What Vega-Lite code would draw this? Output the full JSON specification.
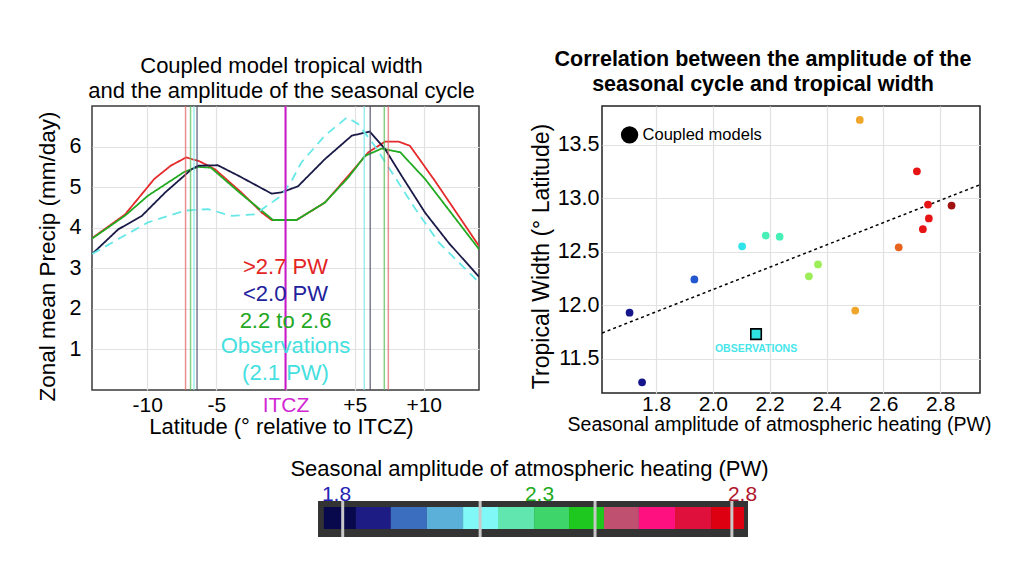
{
  "$schema": "https://vega.github.io/schema/vega-lite/v6.json",
  "background": "white",
  "padding": {"left": 35, "top": 47, "right": 0, "bottom": 0},
  "config": {
    "font": "Liberation Sans",
    "axis": {"labelFont": "Liberation Sans", "titleFont": "Liberation Sans", "labelColor": "black", "titleColor": "black", "titleFontWeight": "normal", "gridColor": "#e2e2e2", "gridWidth": 1.2, "domain": false, "ticks": false},
    "title": {"font": "Liberation Sans", "color": "black"},
    "text": {"font": "Liberation Sans"}
  },
  "datasets": {
    "curves": [
      {"lat": -14, "precip": 3.74, "series": "hi"}, {"lat": -11.6, "precip": 4.33, "series": "hi"}, {"lat": -9.5, "precip": 5.2, "series": "hi"}, {"lat": -8.3, "precip": 5.53, "series": "hi"}, {"lat": -7.2, "precip": 5.73, "series": "hi"}, {"lat": -6.3, "precip": 5.65, "series": "hi"}, {"lat": -5.1, "precip": 5.44, "series": "hi"}, {"lat": -3.2, "precip": 4.87, "series": "hi"}, {"lat": -1.7, "precip": 4.37, "series": "hi"}, {"lat": -1.0, "precip": 4.19, "series": "hi"}, {"lat": 0.8, "precip": 4.19, "series": "hi"}, {"lat": 2.85, "precip": 4.62, "series": "hi"}, {"lat": 4.55, "precip": 5.28, "series": "hi"}, {"lat": 6.0, "precip": 5.86, "series": "hi"}, {"lat": 7.2, "precip": 6.12, "series": "hi"}, {"lat": 8.2, "precip": 6.12, "series": "hi"}, {"lat": 9.0, "precip": 6.02, "series": "hi"}, {"lat": 10.8, "precip": 5.16, "series": "hi"}, {"lat": 14, "precip": 3.55, "series": "hi"},
      {"lat": -14, "precip": 3.73, "series": "mid"}, {"lat": -11.6, "precip": 4.3, "series": "mid"}, {"lat": -9.95, "precip": 4.79, "series": "mid"}, {"lat": -7.3, "precip": 5.38, "series": "mid"}, {"lat": -6.3, "precip": 5.5, "series": "mid"}, {"lat": -5.4, "precip": 5.48, "series": "mid"}, {"lat": -3.2, "precip": 4.83, "series": "mid"}, {"lat": -0.9, "precip": 4.19, "series": "mid"}, {"lat": 0.8, "precip": 4.19, "series": "mid"}, {"lat": 2.85, "precip": 4.62, "series": "mid"}, {"lat": 4.55, "precip": 5.24, "series": "mid"}, {"lat": 5.75, "precip": 5.77, "series": "mid"}, {"lat": 6.95, "precip": 5.95, "series": "mid"}, {"lat": 8.3, "precip": 5.86, "series": "mid"}, {"lat": 10.1, "precip": 5.2, "series": "mid"}, {"lat": 14, "precip": 3.47, "series": "mid"},
      {"lat": -14, "precip": 3.35, "series": "lo"}, {"lat": -12.1, "precip": 3.96, "series": "lo"}, {"lat": -10.4, "precip": 4.29, "series": "lo"}, {"lat": -8.7, "precip": 4.87, "series": "lo"}, {"lat": -6.8, "precip": 5.44, "series": "lo"}, {"lat": -6.3, "precip": 5.53, "series": "lo"}, {"lat": -4.9, "precip": 5.54, "series": "lo"}, {"lat": -3.4, "precip": 5.28, "series": "lo"}, {"lat": -1.0, "precip": 4.84, "series": "lo"}, {"lat": -0.3, "precip": 4.87, "series": "lo"}, {"lat": 0.9, "precip": 5.02, "series": "lo"}, {"lat": 2.85, "precip": 5.69, "series": "lo"}, {"lat": 4.8, "precip": 6.27, "series": "lo"}, {"lat": 6.1, "precip": 6.37, "series": "lo"}, {"lat": 7.2, "precip": 5.94, "series": "lo"}, {"lat": 8.4, "precip": 5.28, "series": "lo"}, {"lat": 10.1, "precip": 4.37, "series": "lo"}, {"lat": 11.8, "precip": 3.63, "series": "lo"}, {"lat": 14, "precip": 2.79, "series": "lo"},
      {"lat": -14, "precip": 3.35, "series": "obs"}, {"lat": -12.1, "precip": 3.72, "series": "obs"}, {"lat": -9.95, "precip": 4.13, "series": "obs"}, {"lat": -7.3, "precip": 4.42, "series": "obs"}, {"lat": -5.6, "precip": 4.46, "series": "obs"}, {"lat": -3.9, "precip": 4.29, "series": "obs"}, {"lat": -2.2, "precip": 4.33, "series": "obs"}, {"lat": -0.3, "precip": 4.79, "series": "obs"}, {"lat": 0.45, "precip": 5.16, "series": "obs"}, {"lat": 1.15, "precip": 5.61, "series": "obs"}, {"lat": 2.85, "precip": 6.27, "series": "obs"}, {"lat": 4.45, "precip": 6.72, "series": "obs"}, {"lat": 5.25, "precip": 6.56, "series": "obs"}, {"lat": 6.45, "precip": 6.02, "series": "obs"}, {"lat": 7.7, "precip": 5.36, "series": "obs"}, {"lat": 9.4, "precip": 4.46, "series": "obs"}, {"lat": 11.1, "precip": 3.63, "series": "obs"}, {"lat": 14, "precip": 2.65, "series": "obs"}
    ],
    "widths": [
      {"lat": -7.23, "series": "hi"}, {"lat": 7.44, "series": "hi"},
      {"lat": -6.87, "series": "mid"}, {"lat": 7.15, "series": "mid"},
      {"lat": -6.62, "series": "obs"}, {"lat": 5.7, "series": "obs"},
      {"lat": -6.4, "series": "lo"}, {"lat": 6.13, "series": "lo"}
    ],
    "itcz": [{"lat": 0}],
    "labels": [
      {"lat": 0, "precip": 3.02, "label": ">2.7 PW", "series": "hi"},
      {"lat": 0, "precip": 2.36, "label": "<2.0 PW", "series": "lo"},
      {"lat": 0, "precip": 1.69, "label": "2.2 to 2.6", "series": "mid"},
      {"lat": 0, "precip": 1.08, "label": "Observations", "series": "obs"},
      {"lat": 0, "precip": 0.43, "label": "(2.1 PW)", "series": "obs"}
    ],
    "models": [
      {"pw": 1.707, "width": 11.93}, {"pw": 1.751, "width": 11.28}, {"pw": 1.935, "width": 12.24},
      {"pw": 2.103, "width": 12.55}, {"pw": 2.186, "width": 12.65}, {"pw": 2.235, "width": 12.64},
      {"pw": 2.338, "width": 12.27}, {"pw": 2.37, "width": 12.38}, {"pw": 2.501, "width": 11.95},
      {"pw": 2.517, "width": 13.73}, {"pw": 2.654, "width": 12.54}, {"pw": 2.718, "width": 13.25},
      {"pw": 2.739, "width": 12.71}, {"pw": 2.757, "width": 12.94}, {"pw": 2.76, "width": 12.81},
      {"pw": 2.84, "width": 12.93}
    ],
    "fit": [{"pw": 1.61, "width": 11.74}, {"pw": 2.94, "width": 13.125}],
    "observation": [{"pw": 2.152, "width": 11.73, "label": "OBSERVATIONS"}],
    "legend": [{"pw": 1.707, "width": 13.59, "label": "Coupled models"}],
    "cells": [
      {"cell": 1, "start": 1.770, "end": 1.849}, {"cell": 2, "start": 1.849, "end": 1.935},
      {"cell": 3, "start": 1.935, "end": 2.024}, {"cell": 4, "start": 2.024, "end": 2.113},
      {"cell": 5, "start": 2.113, "end": 2.199}, {"cell": 6, "start": 2.199, "end": 2.288},
      {"cell": 7, "start": 2.288, "end": 2.374}, {"cell": 8, "start": 2.374, "end": 2.460},
      {"cell": 9, "start": 2.460, "end": 2.546}, {"cell": 10, "start": 2.546, "end": 2.635},
      {"cell": 11, "start": 2.635, "end": 2.724}, {"cell": 12, "start": 2.724, "end": 2.805}
    ],
    "marks": [{"pw": 1.8165}, {"pw": 2.155}, {"pw": 2.438}, {"pw": 2.775}]
  },
  "spacing": 19,
  "resolve": {"scale": {"color": "independent"}},
  "vconcat": [
    {
      "spacing": 49,
      "resolve": {"scale": {"color": "independent"}},
      "hconcat": [
        {
          "width": 387,
          "height": 284,
          "title": {"text": ["Coupled model tropical width", "and the amplitude of the seasonal cycle"], "fontSize": 22, "fontWeight": "normal", "lineHeight": 25, "offset": 2, "dx": -4},
          "view": {"stroke": "#3a3a3a", "strokeWidth": 1.5},
          "resolve": {"scale": {"color": "independent"}},
          "layer": [
            {
              "data": {"name": "curves"},
              "mark": {"type": "line", "clip": true},
              "encoding": {
                "x": {"field": "lat", "type": "quantitative", "scale": {"domain": [-14, 14], "nice": false, "zero": false},
                  "axis": {"values": [-10, -5, 0, 5, 10], "labelExpr": "datum.value == 0 ? 'ITCZ' : (datum.value > 0 ? '+' + datum.value : '' + datum.value)", "labelColor": {"condition": {"test": "datum.value == 0", "value": "#d228d2"}, "value": "black"}, "labelFontSize": 21, "labelPadding": 4, "title": "Latitude (° relative to ITCZ)", "titleFontSize": 22, "titlePadding": 1, "titleX": 189, "grid": true}},
                "y": {"field": "precip", "type": "quantitative", "scale": {"domain": [0, 7], "nice": false},
                  "axis": {"values": [1, 2, 3, 4, 5, 6], "labelFontSize": 21.5, "labelPadding": 11, "title": "Zonal mean Precip (mm/day)", "titleFontSize": 22.5, "titlePadding": 10, "titleY": 150, "grid": true}},
                "color": {"field": "series", "type": "nominal", "scale": {"domain": ["hi", "lo", "mid", "obs"], "range": ["#e42a2a", "#1a1a48", "#22aa22", "#66e8e8"]}, "legend": null},
                "strokeDash": {"field": "series", "type": "nominal", "scale": {"domain": ["hi", "lo", "mid", "obs"], "range": [[1, 0], [1, 0], [1, 0], [9, 6]]}, "legend": null},
                "strokeWidth": {"field": "series", "type": "nominal", "scale": {"domain": ["hi", "lo", "mid", "obs"], "range": [1.8, 1.8, 1.8, 3.2]}, "legend": null}
              }
            },
            {
              "data": {"name": "widths"},
              "mark": {"type": "rule", "strokeWidth": 1.5, "opacity": 0.75},
              "encoding": {
                "x": {"field": "lat", "type": "quantitative"},
                "color": {"field": "series", "type": "nominal", "scale": {"domain": ["hi", "lo", "mid", "obs"], "range": ["#e26a6a", "#50506c", "#5cc05c", "#80e6e6"]}, "legend": null}
              }
            },
            {
              "data": {"name": "itcz"},
              "mark": {"type": "rule", "strokeWidth": 2, "color": "#cc18cc"},
              "encoding": {"x": {"field": "lat", "type": "quantitative"}}
            },
            {
              "data": {"name": "labels"},
              "mark": {"type": "text", "fontSize": 22, "align": "center", "baseline": "middle"},
              "encoding": {
                "x": {"field": "lat", "type": "quantitative"},
                "y": {"field": "precip", "type": "quantitative"},
                "text": {"field": "label"},
                "color": {"field": "series", "type": "nominal", "scale": {"domain": ["hi", "lo", "mid", "obs"], "range": ["#e42424", "#22229c", "#22a822", "#44e0e0"]}, "legend": null}
              }
            }
          ]
        },
        {
          "width": 378,
          "height": 287,
          "title": {"text": ["Correlation between the amplitude of the", "seasonal cycle and tropical width"], "fontSize": 21.5, "fontWeight": "bold", "lineHeight": 25, "offset": 11, "dx": -28},
          "view": {"stroke": "#222222", "strokeWidth": 1.5},
          "layer": [
            {
              "data": {"name": "fit"},
              "mark": {"type": "line", "color": "black", "strokeWidth": 1.5, "strokeDash": [3, 3], "clip": true},
              "encoding": {
                "x": {"field": "pw", "type": "quantitative", "scale": {"domain": [1.61, 2.94], "nice": false, "zero": false},
                  "axis": {"values": [1.8, 2.0, 2.2, 2.4, 2.6, 2.8], "format": ".1f", "labelFontSize": 21, "labelPadding": 0, "title": "Seasonal amplitude of atmospheric heating (PW)", "titleFontSize": 19.5, "titlePadding": 1, "titleX": 177, "grid": true}},
                "y": {"field": "width", "type": "quantitative", "scale": {"domain": [11.18, 13.86], "nice": false, "zero": false},
                  "axis": {"values": [11.5, 12.0, 12.5, 13.0, 13.5], "format": ".1f", "labelFontSize": 21.5, "labelPadding": 3, "title": "Tropical Width (° Latitude)", "titleFontSize": 23, "titlePadding": 4, "titleY": 150, "grid": true}}
              }
            },
            {
              "data": {"name": "models"},
              "mark": {"type": "point", "shape": "circle", "filled": true, "opacity": 1, "size": 60},
              "encoding": {
                "x": {"field": "pw", "type": "quantitative"},
                "y": {"field": "width", "type": "quantitative"},
                "color": {"field": "pw", "type": "quantitative", "scale": {"type": "threshold", "domain": [1.8, 2.0, 2.15, 2.3, 2.45, 2.6, 2.7, 2.8], "range": ["#16168c", "#2456d0", "#2ee4ea", "#48f0b8", "#9cee58", "#f0a62a", "#e8641e", "#e61414", "#a01212"]}, "legend": null}
              }
            },
            {
              "data": {"name": "observation"},
              "mark": {"type": "point", "shape": "square", "filled": true, "size": 110, "color": "#30e2e2", "stroke": "black", "strokeWidth": 1.6, "opacity": 1},
              "encoding": {
                "x": {"field": "pw", "type": "quantitative"},
                "y": {"field": "width", "type": "quantitative"}
              }
            },
            {
              "data": {"name": "observation"},
              "mark": {"type": "text", "fontSize": 10.5, "fontWeight": "bold", "color": "#48e6ea", "dy": 15, "baseline": "middle"},
              "encoding": {
                "x": {"field": "pw", "type": "quantitative"},
                "y": {"field": "width", "type": "quantitative"},
                "text": {"field": "label"}
              }
            },
            {
              "data": {"name": "legend"},
              "mark": {"type": "point", "shape": "circle", "filled": true, "size": 300, "color": "black", "opacity": 1},
              "encoding": {
                "x": {"field": "pw", "type": "quantitative"},
                "y": {"field": "width", "type": "quantitative"}
              }
            },
            {
              "data": {"name": "legend"},
              "mark": {"type": "text", "fontSize": 16.5, "align": "left", "baseline": "middle", "dx": 13, "color": "black"},
              "encoding": {
                "x": {"field": "pw", "type": "quantitative"},
                "y": {"field": "width", "type": "quantitative"},
                "text": {"field": "label"}
              }
            }
          ]
        }
      ]
    },
    {
      "width": 907,
      "height": 36,
      "view": {"stroke": null},
      "layer": [
        {
          "data": {"values": [{}]},
          "mark": {"type": "rect", "color": "#333333"},
          "encoding": {
            "x": {"datum": 1.7557, "type": "quantitative", "scale": {"domain": [1.199, 3.433], "nice": false, "zero": false},
              "axis": {"orient": "top", "values": [1.8, 2.3, 2.8], "format": ".1f", "labelFontSize": 21, "labelPadding": -3, "labelColor": {"condition": [{"test": "datum.value < 2", "value": "#2424b4"}, {"test": "datum.value < 2.5", "value": "#22aa22"}], "value": "#b0142c"}, "title": "Seasonal amplitude of atmospheric heating (PW)", "titleFontSize": 22, "titlePadding": 3, "titleX": 437, "grid": false}},
            "x2": {"datum": 2.8148}
          }
        },
        {
          "data": {"name": "cells"},
          "mark": {"type": "rect"},
          "encoding": {
            "x": {"field": "start", "type": "quantitative"},
            "x2": {"field": "end"},
            "y": {"datum": 0.22, "type": "quantitative", "scale": {"domain": [0, 1], "nice": false}, "axis": null},
            "y2": {"datum": 0.83},
            "color": {"field": "cell", "type": "ordinal", "scale": {"domain": [1, 2, 3, 4, 5, 6, 7, 8, 9, 10, 11, 12], "range": ["#08084c", "#1c1c84", "#3c6ec0", "#5ab0d8", "#80f8f8", "#62e6b0", "#3ed66a", "#1ec81e", "#c05070", "#ff1080", "#e0103c", "#dc0010"]}, "legend": null}
          }
        },
        {
          "data": {"name": "marks"},
          "mark": {"type": "rule", "color": "#c8c8c8", "strokeWidth": 3},
          "encoding": {"x": {"field": "pw", "type": "quantitative"}}
        }
      ]
    }
  ]
}
